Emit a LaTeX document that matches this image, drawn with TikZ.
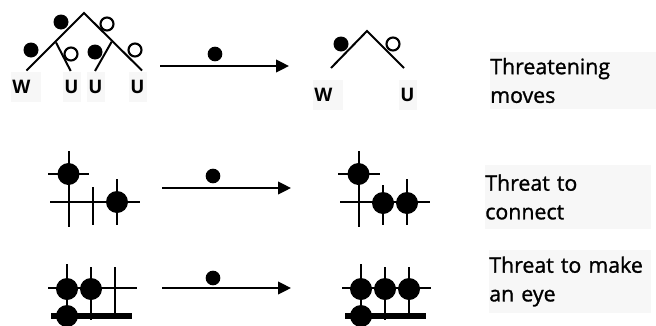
\documentclass[tikz,border=0pt]{standalone}
\usepackage{fontspec}
\setmainfont{Open Sans}
\newfontfamily\capfont[FakeBold=1.2]{Open Sans}
\usetikzlibrary{arrows.meta}
\definecolor{panel}{gray}{0.97}
\tikzset{
  wire/.style={line width=1.7pt},
  edge/.style={line width=1.5pt},
  thick rail/.style={line width=4.5pt},
  arrowline/.style={line width=1.2pt,-{Triangle[length=9.75pt,width=9.5pt]}},
  black stone/.style={circle,fill=black,inner sep=0pt,minimum size=16.5pt},
  play stone/.style={circle,fill=black,inner sep=0pt,minimum size=11pt},
  tree black/.style={circle,fill=black,inner sep=0pt,minimum size=11.25pt},
  tree white/.style={circle,draw=black,line width=1.6pt,fill=white,inner sep=0pt,minimum size=9.75pt},
  leaf/.style={fill=panel,inner xsep=0.75pt,inner ysep=0pt,anchor=west,align=left,minimum height=22.5pt,font=\fontsize{14}{15}\selectfont\bfseries},
  caption/.style={fill=panel,align=left,anchor=west,inner xsep=0pt,inner ysep=0pt,font=\capfont\fontsize{16}{21.5}\selectfont}
}
\begin{document}
\begin{tikzpicture}[x=0.75pt,y=-0.75pt]
\useasboundingbox (0,0) rectangle (656,325);
\clip (0,0) rectangle (656,325);
% left tree
\node[leaf,text width=21pt] (w1) at (11,87) {W};
\node[leaf,text width=12pt] (u1) at (63,87) {U};
\node[leaf,text width=12pt] (u2) at (87,87) {U};
\node[leaf,text width=12pt] (u3) at (129,87) {U};
\coordinate (apex) at (84,13);
\coordinate (ll) at (26.5,70.5);
\coordinate (rr) at (142,70.5);
\coordinate (lm) at (56,42.5);
\coordinate (lb) at (70.7,71);
\coordinate (rm) at (111.7,41.7);
\coordinate (rb) at (95,71);
\draw[edge] (ll) -- (apex) -- (rr);
\draw[edge] (lm) -- (lb);
\draw[edge] (rm) -- (rb);
\node[tree black] (a1) at (61,22) {};
\node[tree white] (a2) at (107,24) {};
\node[tree black] (a3) at (31,50) {};
\node[tree white] (a4) at (71,54) {};
\node[tree black] (a5) at (95,52) {};
\node[tree white] (a6) at (135,50) {};
% right tree
\node[leaf,text width=21pt] (w2) at (313,95) {W};
\node[leaf,text width=12pt] (u4) at (399,95) {U};
\coordinate (apexb) at (367,31);
\coordinate (lb2) at (331,68);
\coordinate (rb2) at (404,68);
\draw[edge] (lb2) -- (apexb) -- (rb2);
\node[tree black] (b1) at (341,44) {};
\node[tree white] (b2) at (393,44) {};
% arrows
\coordinate (s1) at (160,66); \coordinate (e1) at (289,66);
\coordinate (s2) at (162,188); \coordinate (e2) at (291,188);
\coordinate (s3) at (162,288); \coordinate (e3) at (291,288);
\draw[arrowline] (s1) -- (e1);
\draw[arrowline] (s2) -- (e2);
\draw[arrowline] (s3) -- (e3);
\node[play stone] (p1) at (215,54) {};
\node[play stone] (p2) at (213,176) {};
\node[play stone] (p3) at (213,278) {};
% row 2 left
\coordinate (c1) at (69,151); \coordinate (c2) at (69,227);
\coordinate (c3) at (48,174); \coordinate (c4) at (89,174);
\coordinate (c5) at (50,202); \coordinate (c6) at (140,202);
\coordinate (c7) at (93,187); \coordinate (c8) at (93,225);
\coordinate (c9) at (117,179); \coordinate (c10) at (117,225);
\draw[wire] (c1) -- (c2);
\draw[wire] (c3) -- (c4);
\draw[wire] (c5) -- (c6);
\draw[wire] (c7) -- (c8);
\draw[wire] (c9) -- (c10);
\node[black stone] (s21) at (68.5,174) {};
\node[black stone] (s22) at (117,202) {};
% row 2 right
\coordinate (d1) at (359,151); \coordinate (d2) at (359,227);
\coordinate (d3) at (338,174); \coordinate (d4) at (380,174);
\coordinate (d5) at (340,202); \coordinate (d6) at (430,202);
\coordinate (d7) at (383,185); \coordinate (d8) at (383,225);
\coordinate (d9) at (407,179); \coordinate (d10) at (407,225);
\draw[wire] (d1) -- (d2);
\draw[wire] (d3) -- (d4);
\draw[wire] (d5) -- (d6);
\draw[wire] (d7) -- (d8);
\draw[wire] (d9) -- (d10);
\node[black stone] (t21) at (358.5,174) {};
\node[black stone] (t22) at (383,203) {};
\node[black stone] (t23) at (407,203) {};
% row 3 left
\coordinate (f1) at (67,264); \coordinate (f2) at (67,316);
\coordinate (f3) at (91,267); \coordinate (f4) at (91,320);
\coordinate (f5) at (115,267); \coordinate (f6) at (115,316);
\coordinate (f7) at (48,288); \coordinate (f8) at (137,288);
\coordinate (f9) at (51,316); \coordinate (f10) at (132,316);
\draw[wire] (f1) -- (f2);
\draw[wire] (f3) -- (f4);
\draw[wire] (f5) -- (f6);
\draw[wire] (f7) -- (f8);
\draw[thick rail] (f9) -- (f10);
\node[black stone] (s31) at (67,289) {};
\node[black stone] (s32) at (91,289) {};
\node[black stone] (s33) at (67,316) {};
% row 3 right
\coordinate (g1) at (361,264); \coordinate (g2) at (361,316);
\coordinate (g3) at (385,267); \coordinate (g4) at (385,320);
\coordinate (g5) at (409,267); \coordinate (g6) at (409,316);
\coordinate (g7) at (342,288); \coordinate (g8) at (431,288);
\coordinate (g9) at (345,316); \coordinate (g10) at (426,316);
\draw[wire] (g1) -- (g2);
\draw[wire] (g3) -- (g4);
\draw[wire] (g5) -- (g6);
\draw[wire] (g7) -- (g8);
\draw[thick rail] (g9) -- (g10);
\node[black stone] (u31) at (361,289) {};
\node[black stone] (u32) at (385,289) {};
\node[black stone] (u33) at (409,289) {};
\node[black stone] (u34) at (361,316) {};
% captions
\node[caption,text width=124.5pt,minimum height=43pt] (cap1) at (490,80.5) {Threatening\\moves};
\node[caption,text width=124.5pt,minimum height=48pt] (cap2) at (485,197) {Threat to\\connect};
\node[caption,text width=121pt,minimum height=47pt] (cap3) at (489,281.5) {Threat to make\\an eye};
\end{tikzpicture}
\end{document}
